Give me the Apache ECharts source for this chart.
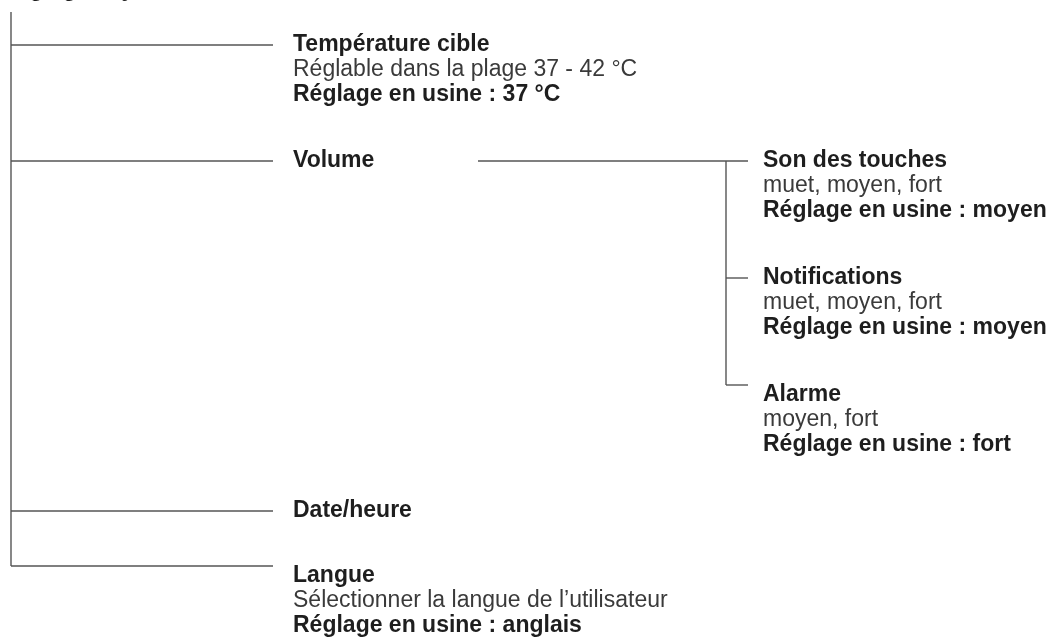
<!DOCTYPE html>
<html>
<head>
<meta charset="utf-8">
<title>Réglages système</title>
<script src="https://cdn.jsdelivr.net/npm/echarts@6/dist/echarts.min.js"></script>
<style>
  html, body { margin: 0; padding: 0; background: #fff; }
  #chart { width: 1051px; height: 637px; }
</style>
</head>
<body>
<div id="chart"></div>
<script>
// texte du menu
const rootTitle = 'Réglages système';
const menuItems = ['Température cible', 'Volume', 'Date/heure', 'Langue'];
const menuDetails = [
    ['Réglable dans la plage 37 - 42 °C', 'Réglage en usine : 37 °C'],
    [],
    [],
    ['Sélectionner la langue de l\u2019utilisateur', 'Réglage en usine : anglais']
];
const volumeItems = ['Son des touches', 'Notifications', 'Alarme'];
const volumeDetails = [
    ['muet, moyen, fort', 'Réglage en usine : moyen'],
    ['muet, moyen, fort', 'Réglage en usine : moyen'],
    ['moyen, fort', 'Réglage en usine : fort']
];

// mise en page (unités de l'axe = pixels)
const menuBranchY = [45, 161, 511, 566];
const menuLabelY = [45, 161, 511, 576];
const volumeBranchY = [161, 278, 385];
const volumeLabelY = [161, 278, 395];
const trunkX = 11, trunkTop = 12, branchEnd = 273, labelX = 293;
const volLineStart = 478, volTrunkX = 726, volBranchEnd = 748, volLabelX = 763;
const lineGap = 25;

const FONT = '"Liberation Sans", Arial, Helvetica, sans-serif';
const SIZE = 23;
const lineStyle = { stroke: '#555', lineWidth: 1.4 };

function textEl(api, str, x, y, bold) {
    const p = api.coord([x, y]);
    return {
        type: 'text',
        style: {
            text: str,
            x: p[0],
            y: p[1],
            fill: bold ? '#1e1e1e' : '#3a3a3a',
            font: (bold ? 'bold ' : '') + SIZE + 'px ' + FONT,
            align: 'left',
            verticalAlign: 'middle'
        }
    };
}

function lineEl(api, x1, y1, x2, y2) {
    const a = api.coord([x1, y1]);
    const b = api.coord([x2, y2]);
    return {
        type: 'line',
        shape: { x1: a[0], y1: a[1], x2: b[0], y2: b[1] },
        style: lineStyle
    };
}

function itemTexts(api, name, details, x, y) {
    const out = [textEl(api, name, x, y, true)];
    details.forEach(function (d, k) {
        out.push(textEl(api, d, x, y + (k + 1) * lineGap, d.indexOf('Réglage en usine') === 0));
    });
    return out;
}

function renderMenu(params, api) {
    const i = api.value(0);
    const children = [];
    if (i === 0) {
        // tronc principal + titre coupé en haut
        children.push(lineEl(api, trunkX, trunkTop, trunkX, menuBranchY[menuBranchY.length - 1]));
        children.push(textEl(api, rootTitle, 0, -10, true));
    }
    children.push(lineEl(api, trunkX, menuBranchY[i], branchEnd, menuBranchY[i]));
    return {
        type: 'group',
        children: children.concat(itemTexts(api, menuItems[i], menuDetails[i], labelX, menuLabelY[i]))
    };
}

function renderVolume(params, api) {
    const i = api.value(0);
    const children = [];
    if (i === 0) {
        children.push(lineEl(api, volLineStart, volumeBranchY[0], volBranchEnd, volumeBranchY[0]));
        children.push(lineEl(api, volTrunkX, volumeBranchY[0], volTrunkX, volumeBranchY[volumeBranchY.length - 1]));
    } else {
        children.push(lineEl(api, volTrunkX, volumeBranchY[i], volBranchEnd, volumeBranchY[i]));
    }
    return {
        type: 'group',
        children: children.concat(itemTexts(api, volumeItems[i], volumeDetails[i], volLabelX, volumeLabelY[i]))
    };
}

const chart = echarts.init(document.getElementById('chart'), null, { renderer: 'canvas' });

chart.setOption({
    animation: false,
    grid: { left: 0, right: 0, top: 0, bottom: 0 },
    xAxis: { type: 'value', min: 0, max: 1051, show: false },
    yAxis: { type: 'value', min: 0, max: 637, inverse: true, show: false },
    series: [
        {
            type: 'custom',
            coordinateSystem: 'cartesian2d',
            renderItem: renderMenu,
            data: menuItems.map(function (n, i) { return [i]; }),
            silent: true
        },
        {
            type: 'custom',
            coordinateSystem: 'cartesian2d',
            renderItem: renderVolume,
            data: volumeItems.map(function (n, i) { return [i]; }),
            silent: true
        }
    ]
});

window.onresize = function () {
    chart.resize();
};
</script>
</body>
</html>
